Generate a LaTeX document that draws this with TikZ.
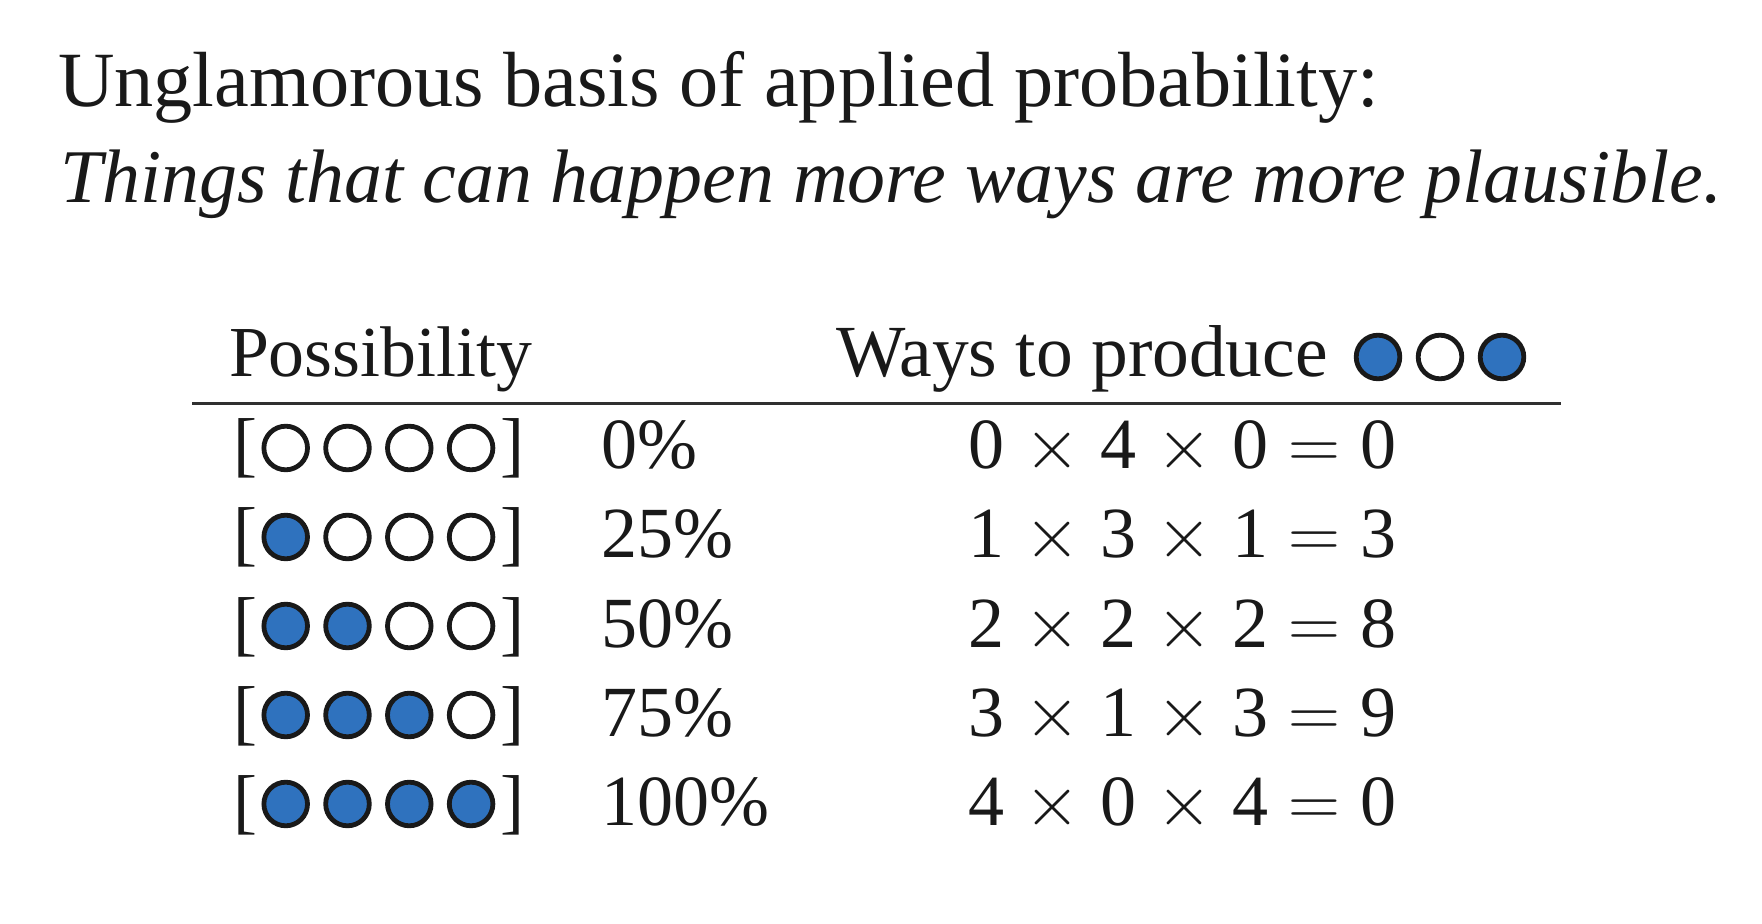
\RequirePackage{fix-cm}
\documentclass[tikz,border=0pt]{standalone}
\usepackage{fontspec}
\setmainfont{Liberation Serif}
\usepackage{graphicx}
\definecolor{dotblue}{RGB}{47,114,190}
\definecolor{ink}{RGB}{25,25,25}
\newcommand\fitw[2]{\resizebox{#1}{!}{#2}}
\newcommand\eqsp{\hspace{0.28em}}
\newcommand\tms{\eqsp$\times$\eqsp}
\newcommand\eqs{\eqsp$=$\eqsp}
\begin{document}
\begin{tikzpicture}[x=0.5pt,y=-0.5pt,
  txt/.style={inner sep=0pt,outer sep=0pt,anchor=base west,text=ink},
  body/.style={txt,font=\fontsize{36}{40}\selectfont},
  dotfull/.style={circle,draw=ink,fill=dotblue,line width=2.4pt,minimum size=21.8pt,inner sep=0pt},
  dotempty/.style={circle,draw=ink,fill=white,line width=2.4pt,minimum size=21.8pt,inner sep=0pt},
  rulestyle/.style={draw=ink!90,line width=1.5pt}]
\useasboundingbox (0,0) rectangle (1762,924);
% title
\node[txt] (t1) at (58,107) {\fitw{660.5pt}{\fontsize{40}{44}\selectfont Unglamorous basis of applied probability:}};
\node[txt] (t2) at (60,203) {\fitw{831pt}{\fontsize{40}{44}\selectfont\itshape Things that can happen more ways are more plausible.}};
% headers
\node[txt] (h1) at (229,377) {\fitw{151.5pt}{\fontsize{36}{40}\selectfont Possibility}};
\node[txt] (h2) at (836,377) {\fitw{246pt}{\fontsize{36}{40}\selectfont Ways to produce}};
\node[dotfull]  (hc1) at (1378,357) {};
\node[dotempty] (hc2) at (1440,357) {};
\node[dotfull]  (hc3) at (1502,357) {};
% rule
\coordinate (rl) at (192,404);
\coordinate (rr) at (1561,404);
\draw[rulestyle] (rl) -- (rr);
% rows
\foreach \r/\y/\n/\pc/\eq in {
  1/469/0/0\%/{0\tms4\tms0\eqs0},
  2/558/1/25\%/{1\tms3\tms1\eqs3},
  3/647/2/50\%/{2\tms2\tms2\eqs8},
  4/736/3/75\%/{3\tms1\tms3\eqs9},
  5/825/4/100\%/{4\tms0\tms4\eqs0}}{
  \node[body] (lb\r) at (233,\y) {[};
  \node[body] (rb\r) at (500,\y) {]};
  \foreach \k in {1,2,3,4}{
    \pgfmathtruncatemacro\filled{\k<=\n ? 1 : 0}
    \ifnum\filled=1
      \node[dotfull] (c\r\k) at ({285.7+61.8*(\k-1)},{\y-21}) {};
    \else
      \node[dotempty] (c\r\k) at ({285.7+61.8*(\k-1)},{\y-21}) {};
    \fi
  }
  \node[body] (p\r) at (601,\y) {\pc};
  \node[body] (e\r) at (968,\y) {\eq};
}
\end{tikzpicture}
\end{document}
